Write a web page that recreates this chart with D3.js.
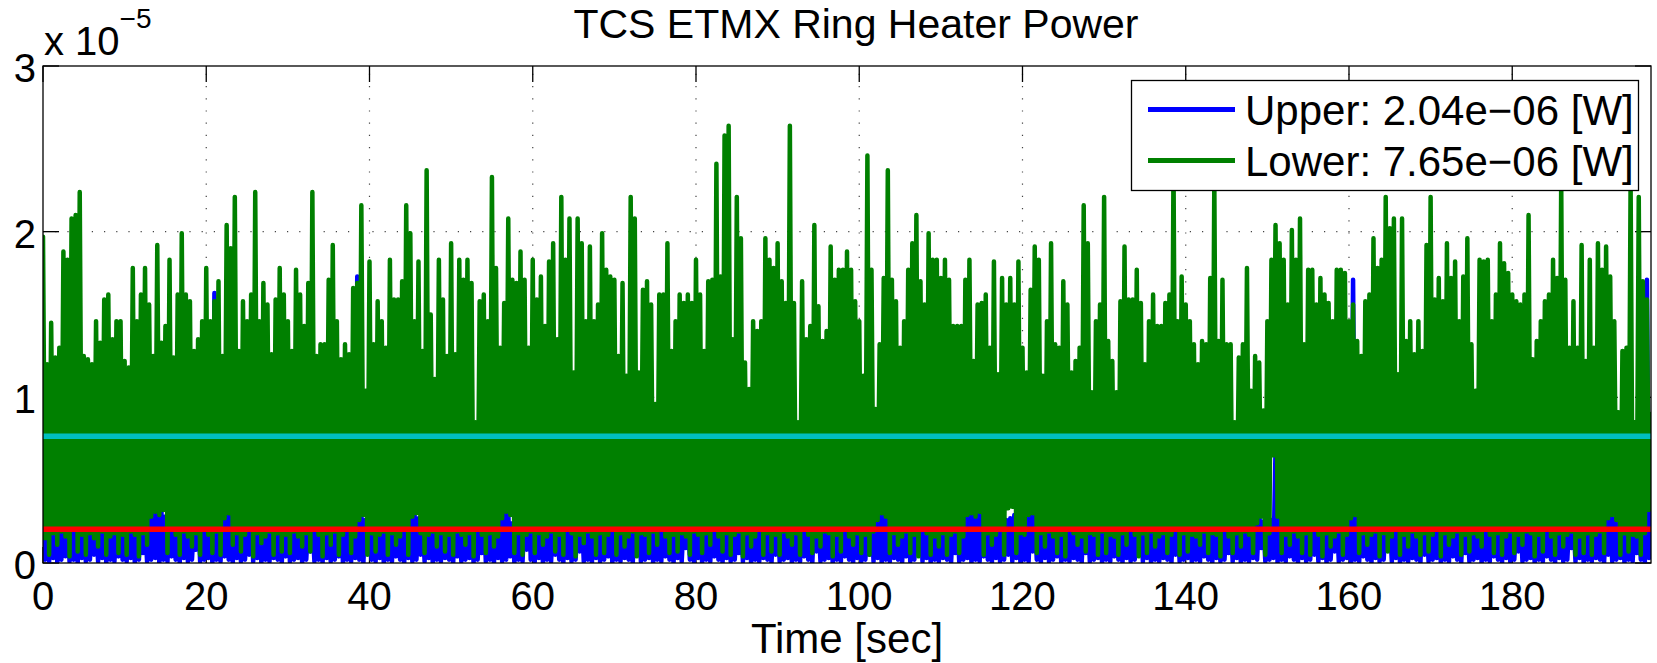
<!DOCTYPE html>
<html>
<head>
<meta charset="utf-8">
<script src="https://cdn.jsdelivr.net/npm/d3@7"></script>
<style>
  html, body { margin: 0; padding: 0; background: #fff; }
  svg { display: block; font-family: "Liberation Sans", Arial, Helvetica, sans-serif; }
</style>
</head>
<body>
<svg id="chart" width="1657" height="663"></svg>
<script>
// ring heater power, values in units of 1e-6 W
// samples every 0.25 s: peaks at t = 0, 0.5, 1 ... and troughs in between
const sampleStep = 0.25;

const lowerPeaks = [
  19.7,12.0,14.5,12.4,13.0,18.8,18.3,20.8,21.0,22.4,12.5,12.3,12.0,14.6,13.3,15.9,16.2,13.5,14.6,14.6,
  12.2,11.8,17.8,14.6,16.2,17.8,15.6,12.5,19.2,13.3,14.3,18.3,12.4,16.2,19.9,16.2,15.8,12.8,13.5,14.6,
  17.8,14.6,15.8,17.0,12.5,20.4,19.0,22.1,12.8,15.8,14.6,16.2,22.4,14.6,16.9,15.6,12.6,15.9,17.8,16.2,
  14.6,12.8,17.7,16.2,14.3,16.9,22.4,12.5,13.2,13.2,17.1,19.2,14.6,12.3,13.2,12.6,16.6,16.9,21.6,10.4,
  18.2,13.2,15.8,14.6,13.0,18.3,15.9,15.9,17.0,21.6,19.9,14.6,18.2,12.8,23.7,15.0,11.1,18.3,15.9,12.5,
  19.3,12.6,18.3,17.1,18.3,16.9,8.5,15.8,16.2,14.6,23.3,17.8,13.0,15.7,20.8,17.1,16.9,18.8,17.1,13.0,
  18.3,15.9,17.3,14.3,18.2,19.3,13.5,22.1,18.3,20.8,11.5,20.8,19.3,14.6,19.1,14.6,15.6,19.9,17.7,17.3,
  17.1,12.5,16.9,11.3,22.1,20.8,11.5,16.5,17.0,15.6,9.6,16.2,16.2,19.3,12.8,14.6,16.2,15.7,16.2,15.7,
  18.3,16.2,12.8,17.0,17.1,24.1,17.3,25.8,26.4,13.5,22.1,19.6,12.1,10.5,14.6,14.0,14.6,19.6,18.3,17.8,
  19.3,17.0,15.7,26.4,15.7,8.5,17.0,13.5,14.3,20.4,15.5,13.4,14.0,19.1,17.1,17.7,17.7,18.8,17.7,15.8,
  14.6,11.3,24.6,17.7,9.3,13.2,17.2,23.7,17.1,15.8,13.0,14.6,17.7,19.3,21.0,17.0,15.6,19.9,18.3,18.3,
  17.2,18.3,17.1,14.3,14.3,14.3,17.1,18.3,12.2,15.6,15.7,16.2,13.0,18.2,11.4,17.2,15.6,17.2,15.6,18.2,
  13.0,11.5,16.5,19.1,18.3,11.3,14.6,19.3,13.2,13.0,17.0,15.6,11.5,12.2,13.0,21.6,19.3,10.3,14.6,15.6,
  22.1,13.4,12.2,10.3,15.8,19.1,15.9,15.9,17.7,15.7,12.0,14.6,16.2,14.3,14.3,15.7,16.2,24.0,14.6,17.3,
  15.6,14.6,13.2,12.0,13.4,13.2,17.2,23.0,13.4,17.1,13.2,13.2,8.5,12.4,13.2,17.8,10.4,12.5,12.1,9.2,
  14.6,18.3,20.4,19.3,18.3,15.6,20.1,18.3,20.8,13.2,17.7,17.7,15.6,17.2,16.2,15.7,14.6,17.7,17.7,17.5,
  14.6,15.6,13.4,12.5,15.8,16.2,19.6,17.8,18.3,22.1,20.2,20.8,11.4,20.8,13.4,14.6,12.6,14.6,12.8,19.2,
  22.1,15.9,17.2,15.8,19.3,17.2,18.2,14.6,17.3,19.6,13.2,10.4,18.3,18.2,18.3,14.6,16.2,19.3,18.1,17.5,
  16.2,15.8,15.6,16.2,21.0,12.3,13.4,14.6,15.8,16.2,18.3,17.2,23.0,17.1,13.0,15.8,13.0,19.2,12.2,18.3,
  13.0,19.3,17.7,19.1,17.3,14.6,9.1,12.8,13.0,23.0,8.5,22.1,17.0,15.9,9.0
];
const lowerTroughs = [
  1.5,0.5,1.8,1.1,1.9,1.6,0.4,2.0,0.7,1.7,0.5,1.8,1.5,1.0,1.9,0.5,1.6,1.8,0.6,1.7,
  0.5,1.9,1.7,0.4,1.8,1.1,2.8,3.1,2.9,3.2,0.6,2.0,1.7,0.5,1.9,1.6,1.0,1.8,0.5,2.0,
  1.7,0.6,1.9,0.5,2.7,3.0,1.1,1.8,0.7,1.7,2.0,0.4,1.8,1.2,1.6,1.9,0.5,1.8,0.7,1.7,
  0.6,1.9,1.6,1.0,1.8,0.7,2.0,1.7,0.4,1.8,1.1,1.9,0.5,1.7,2.0,0.6,1.6,2.6,2.9,0.5,
  1.8,0.7,1.7,1.9,0.5,1.8,1.1,1.6,2.0,0.5,2.8,3.0,1.8,0.6,1.7,1.9,1.0,1.8,0.7,1.7,
  0.5,1.9,1.7,1.1,1.8,0.4,2.0,1.7,0.6,1.8,1.0,1.6,2.7,3.1,2.9,0.6,1.8,0.5,1.7,1.9,
  0.6,1.8,1.1,1.6,1.9,0.7,1.7,0.5,2.0,1.8,0.4,1.7,1.2,1.9,1.6,0.5,1.8,0.6,1.7,2.0,
  0.5,1.8,1.0,1.6,1.9,0.4,1.8,1.7,0.6,1.9,1.1,2.0,1.6,0.6,1.7,0.7,1.8,1.6,0.5,1.9,
  1.7,0.6,1.8,1.1,2.0,1.6,0.7,1.8,0.5,1.7,1.9,0.4,1.8,1.0,1.6,2.0,0.5,1.8,0.7,1.7,
  0.5,1.9,1.6,1.1,1.8,0.5,2.0,1.7,0.6,1.6,1.0,1.9,1.8,0.4,1.7,0.7,2.0,1.6,1.1,1.8,
  0.6,1.7,0.5,1.9,2.6,3.0,2.8,0.6,1.8,1.1,1.6,1.9,0.6,1.7,0.4,2.0,1.8,0.5,1.6,1.0,
  1.8,0.5,1.7,1.9,0.6,1.6,2.9,3.0,2.8,3.1,0.5,1.8,1.1,1.7,2.0,0.5,3.3,3.4,0.6,1.8,
  1.7,2.9,3.0,0.6,1.8,1.0,1.9,1.6,0.6,1.7,0.4,2.0,1.8,1.1,1.6,0.7,1.8,1.7,0.5,1.9,
  0.6,1.7,1.6,0.5,1.8,1.1,2.0,1.7,0.4,1.8,0.6,1.9,1.0,1.6,1.8,0.6,1.7,2.0,0.5,1.8,
  0.7,1.7,1.6,1.1,1.9,0.6,1.8,1.7,0.4,2.0,1.6,0.6,1.8,1.0,1.9,1.7,0.6,2.4,2.8,0.5,
  1.8,6.5,2.8,0.6,1.7,1.1,1.9,1.6,0.6,1.8,0.5,2.0,1.7,0.4,1.8,1.0,1.6,1.9,0.5,1.7,
  2.7,2.9,0.6,1.8,1.1,1.7,1.9,0.4,1.8,0.7,1.6,2.0,0.5,1.7,1.0,1.9,1.6,0.5,1.8,0.7,
  1.7,2.0,0.4,1.8,1.1,1.6,1.9,0.5,1.7,0.7,1.8,1.6,1.0,2.0,1.7,0.6,1.8,0.5,1.6,1.9,
  0.6,1.7,1.1,1.9,1.8,0.4,1.7,0.7,2.0,1.6,0.5,1.8,1.0,1.7,1.9,0.5,1.6,0.6,1.8,0.5,
  1.7,1.9,0.6,2.7,2.9,2.6,0.5,1.8,0.7,1.7,1.6,0.5,1.8,3.2
];
const upperPeaks = [
  2.4,3.1,2.6,2.9,2.2,3.3,2.7,2.5,3.0,2.3,2.8,2.6,3.2,2.4,2.9,2.7,2.5,3.1,2.2,2.8,
  2.6,3.0,2.4,2.9,2.7,2.5,3.1,3.3,3.0,3.2,2.8,2.6,2.3,2.9,2.5,3.1,2.7,2.4,3.0,2.6,
  2.8,2.5,16.3,2.9,2.7,3.1,2.9,2.4,2.6,3.0,2.5,2.8,2.3,2.9,2.6,3.1,2.7,2.4,3.0,2.5,
  2.9,2.6,2.4,3.1,2.8,2.5,2.7,3.0,2.3,2.9,2.6,2.8,2.4,3.2,2.5,2.7,3.0,17.3,3.0,2.6,
  2.4,2.9,2.7,2.5,3.1,2.8,2.3,2.6,3.0,2.4,2.9,3.1,2.7,2.5,2.8,2.6,3.0,2.4,2.7,2.9,
  2.5,2.8,2.6,3.0,2.4,2.9,2.7,2.3,3.1,2.6,2.8,2.5,2.9,3.2,3.0,2.4,2.7,2.5,3.0,6.6,
  4.8,2.9,2.6,3.1,2.4,2.8,2.5,2.7,4.8,2.6,2.9,2.4,3.0,2.7,2.5,2.8,2.6,3.1,2.4,2.9,
  2.7,2.5,3.0,2.6,2.8,2.4,2.9,2.7,2.5,3.1,2.6,2.8,2.4,3.0,2.7,2.5,2.9,2.6,2.8,2.4,
  3.0,2.7,2.5,2.9,2.6,2.8,5.3,2.4,3.1,2.7,2.5,2.9,2.6,2.8,2.4,3.0,2.7,2.5,2.9,2.6,
  2.8,2.4,3.1,2.7,2.5,2.9,2.6,2.8,2.4,3.0,2.7,2.5,2.9,2.6,2.8,2.4,3.1,2.7,2.5,2.9,
  2.6,2.8,2.4,3.0,4.2,3.1,3.0,3.2,4.7,2.6,2.8,2.4,2.9,2.7,2.5,3.1,2.6,2.8,2.4,2.9,
  2.7,2.5,3.0,2.6,2.8,2.4,3.0,2.9,3.1,2.9,3.0,2.6,2.8,2.4,2.9,2.7,2.6,2.7,2.9,2.5,
  2.8,3.0,3.1,2.9,2.6,2.4,3.0,2.7,2.5,2.8,2.6,2.9,2.4,3.1,2.7,2.5,2.8,2.6,3.0,2.4,
  2.9,2.7,2.5,3.1,2.6,2.8,2.4,2.9,2.7,2.5,3.0,2.6,2.8,2.4,2.9,2.7,2.5,3.1,2.6,2.8,
  2.4,2.9,2.7,2.5,3.0,2.6,2.8,2.4,3.1,2.7,2.5,2.9,2.6,2.8,2.4,3.0,2.7,2.9,3.1,2.5,
  2.8,2.6,6.8,5.9,2.7,2.5,3.0,2.6,2.8,2.4,2.9,2.7,2.5,3.1,2.6,2.8,2.4,3.0,2.7,2.5,
  2.9,17.1,2.8,2.4,3.0,2.7,2.5,2.9,2.6,2.8,2.4,3.1,2.7,2.5,2.9,2.6,2.8,2.4,3.0,2.7,
  2.5,2.9,2.6,2.8,2.4,3.1,2.7,2.5,2.9,2.6,2.8,2.4,3.0,2.7,2.5,2.9,2.6,2.8,2.4,3.1,
  2.7,2.5,2.9,2.6,2.8,2.4,3.0,2.7,2.5,2.9,2.6,2.8,2.4,3.1,2.7,2.5,2.9,2.6,2.8,2.4,
  3.0,2.7,2.5,2.6,2.8,2.7,2.4,3.0,2.6,2.8,2.5,2.9,2.7,17.1,3.2
];
const upperTroughs = [
  0.2,0.1,0.3,0.0,0.2,0.4,0.1,0.2,0.0,0.3,0.1,0.2,0.5,0.1,0.3,0.0,0.2,0.1,0.4,0.2,
  0.1,0.3,0.0,0.2,0.6,0.1,0.2,0.3,0.0,0.2,0.1,0.4,0.2,0.0,0.3,0.1,0.2,0.8,0.1,0.2,
  0.3,0.0,0.2,0.1,0.4,0.2,0.0,0.3,0.1,0.2,0.5,0.1,0.3,0.0,0.2,0.1,0.3,0.2,0.0,0.4,
  0.1,0.2,0.3,0.0,0.2,0.7,0.1,0.2,0.0,0.3,0.1,0.2,0.4,0.0,0.2,0.1,0.3,0.2,0.0,0.6,
  0.2,0.1,0.3,0.0,0.2,0.1,0.4,0.2,0.0,0.3,0.1,0.2,0.5,0.1,0.3,0.0,0.2,0.1,0.3,0.2,
  0.0,0.4,0.1,0.2,0.3,0.0,0.2,0.6,0.1,0.2,0.0,0.3,0.1,0.2,0.4,0.0,0.2,0.1,0.8,0.2,
  0.1,0.3,0.0,0.2,0.1,0.5,0.2,0.0,0.3,0.1,0.2,0.7,0.1,0.2,0.0,0.3,0.1,0.2,0.4,0.0,
  0.2,0.1,0.3,0.2,0.0,0.6,0.1,0.2,0.3,0.0,0.2,0.1,0.4,0.2,0.0,0.3,0.1,0.9,0.2,0.1,
  0.3,0.0,0.2,0.1,0.4,0.2,0.0,0.3,0.1,0.2,0.6,0.1,0.3,0.0,0.2,0.1,0.3,0.2,0.0,0.5,
  0.1,0.2,0.3,0.0,0.2,0.1,0.4,0.2,0.0,0.7,0.1,0.2,0.3,0.0,0.2,0.1,0.4,0.2,0.0,0.3,
  0.1,0.2,0.5,0.1,0.3,0.0,0.2,0.1,0.3,0.2,0.0,0.4,0.1,0.2,0.8,0.1,0.3,0.0,0.2,0.1,
  0.3,0.2,0.0,0.6,0.1,0.2,0.3,0.0,0.2,0.1,0.4,0.2,0.0,0.3,0.1,0.2,0.5,0.1,0.3,0.0,
  0.2,0.1,0.7,0.2,0.0,0.3,0.1,0.2,0.4,0.0,0.2,0.1,0.3,0.2,0.0,0.6,0.1,0.2,0.3,0.0,
  0.2,0.1,0.4,0.2,0.0,0.3,0.1,0.2,0.8,0.1,0.3,0.0,0.2,0.1,0.3,0.2,0.0,0.5,0.1,0.2,
  0.3,0.0,0.2,0.1,0.4,0.2,0.0,0.3,0.1,0.2,0.6,0.1,0.3,0.0,0.2,0.1,0.3,0.2,0.9,0.1,
  0.2,0.3,0.0,0.2,0.1,0.4,0.2,0.0,0.3,0.1,0.2,0.5,0.1,0.3,0.0,0.2,0.7,0.1,0.2,0.3,
  0.0,0.2,0.1,0.4,0.2,0.0,0.3,0.1,0.2,0.8,0.1,0.3,0.0,0.2,0.1,0.3,0.2,0.0,0.5,0.1,
  0.2,0.3,0.0,0.2,0.1,0.4,0.2,0.0,0.6,0.1,0.2,0.3,0.0,0.2,0.1,0.4,0.2,0.0,0.3,0.1,
  0.2,0.7,0.1,0.2,0.3,0.0,0.2,0.1,0.4,0.2,0.0,0.3,0.1,0.2,0.9,0.1,0.3,0.0,0.2,0.1,
  0.3,0.2,0.0,0.5,0.1,0.2,0.3,0.0,0.2,0.1,0.6,0.2,0.0,0.3
];

// mean values shown in the legend (W)
const upperMean = 2.04e-6;
const lowerMean = 7.65e-6;
const legendLabels = ["Upper: 2.04e\u221206 [W]", "Lower: 7.65e\u221206 [W]"];

const xTicks = [0, 20, 40, 60, 80, 100, 120, 140, 160, 180];
const yTicks = [0, 1, 2, 3];   // x 10^-5
const tMax = 197;

// peaks and troughs -> one time series
function toSeries(peaks, troughs){
    const out = [];
    peaks.forEach((p, i) => {
        out.push({t: 2*i*sampleStep, v: p*1e-6});
        if (i < troughs.length) out.push({t: (2*i+1)*sampleStep, v: troughs[i]*1e-6});
    });
    return out;
}
const upper = toSeries(upperPeaks, upperTroughs);
const lower = toSeries(lowerPeaks, lowerTroughs);

const svg = d3.select("#chart");
const plotLeft = 43, plotRight = 1651, plotTop = 66, plotBottom = 563;

const x = d3.scaleLinear().domain([0, tMax]).range([plotLeft, plotRight]);
const y = d3.scaleLinear().domain([0, 3e-5]).range([plotBottom, plotTop]);

svg.append("defs").append("clipPath").attr("id", "plotClip")
    .append("rect").attr("x", plotLeft).attr("y", plotTop)
    .attr("width", plotRight - plotLeft).attr("height", plotBottom - plotTop);

// dotted grid
const grid = svg.append("g").attr("stroke", "#444").attr("stroke-width", 1.2)
    .attr("stroke-dasharray", "1.2 11");
xTicks.slice(1).forEach(t => {
    grid.append("line").attr("x1", x(t)).attr("x2", x(t)).attr("y1", plotBottom).attr("y2", plotTop);
});
yTicks.slice(1, -1).forEach(t => {
    grid.append("line").attr("x1", plotLeft).attr("x2", plotRight).attr("y1", y(t*1e-5)).attr("y2", y(t*1e-5));
});

// ticks inside the box, on all four sides
const tickLen = 16;
const ticks = svg.append("g").attr("stroke", "#000").attr("stroke-width", 1.3);
xTicks.forEach(t => {
    ticks.append("line").attr("x1", x(t)).attr("x2", x(t)).attr("y1", plotTop).attr("y2", plotTop + tickLen);
    ticks.append("line").attr("x1", x(t)).attr("x2", x(t)).attr("y1", plotBottom).attr("y2", plotBottom - tickLen);
});
yTicks.forEach(t => {
    ticks.append("line").attr("x1", plotLeft).attr("x2", plotLeft + tickLen).attr("y1", y(t*1e-5)).attr("y2", y(t*1e-5));
    ticks.append("line").attr("x1", plotRight).attr("x2", plotRight - tickLen).attr("y1", y(t*1e-5)).attr("y2", y(t*1e-5));
});

// data
const line = d3.line().x(d => x(d.t)).y(d => y(d.v));
const plot = svg.append("g").attr("clip-path", "url(#plotClip)");

plot.append("path").datum(upper)
    .attr("d", line).attr("fill", "none").attr("stroke", "#0000ff")
    .attr("stroke-width", 4.5).attr("stroke-linejoin", "round").attr("stroke-linecap", "round");
plot.append("path").datum(lower)
    .attr("d", line).attr("fill", "none").attr("stroke", "#008000")
    .attr("stroke-width", 4.5).attr("stroke-linejoin", "round").attr("stroke-linecap", "round");

// mean lines
plot.append("line").attr("x1", x(0)).attr("x2", x(tMax))
    .attr("y1", y(upperMean)).attr("y2", y(upperMean))
    .attr("stroke", "#ff0000").attr("stroke-width", 5.5);
plot.append("line").attr("x1", x(0)).attr("x2", x(tMax))
    .attr("y1", y(lowerMean)).attr("y2", y(lowerMean))
    .attr("stroke", "#00bfbf").attr("stroke-width", 5.5);

// axes box
svg.append("rect").attr("x", plotLeft).attr("y", plotTop)
    .attr("width", plotRight - plotLeft).attr("height", plotBottom - plotTop)
    .attr("fill", "none").attr("stroke", "#000").attr("stroke-width", 1.3);

// tick labels
svg.append("g").selectAll("text").data(xTicks).join("text")
    .attr("x", d => x(d)).attr("y", 610)
    .attr("text-anchor", "middle").attr("font-size", "40px")
    .text(d => d);
svg.append("g").selectAll("text").data(yTicks).join("text")
    .attr("x", 36).attr("y", d => y(d*1e-5) + 16)
    .attr("text-anchor", "end").attr("font-size", "40px")
    .text(d => d);

// exponent label
const expo = svg.append("text").attr("x", 44).attr("y", 55).attr("font-size", "40px");
expo.append("tspan").text("x 10");
expo.append("tspan").attr("font-size", "28px").attr("dy", -27).text("\u22125");

// title and axis label
svg.append("text").attr("x", 856).attr("y", 38)
    .attr("text-anchor", "middle").attr("font-size", "41px")
    .text("TCS ETMX Ring Heater Power");
svg.append("text").attr("x", (plotLeft + plotRight)/2).attr("y", 653)
    .attr("text-anchor", "middle").attr("font-size", "42px")
    .text("Time [sec]");

// legend
const legend = svg.append("g");
legend.append("rect").attr("x", 1131.5).attr("y", 80.5).attr("width", 507).attr("height", 110)
    .attr("fill", "#fff").attr("stroke", "#000").attr("stroke-width", 1.3);
const legendColors = ["#0000ff", "#008000"];
legendLabels.forEach((label, i) => {
    const ly = 109.5 + i*51;
    legend.append("line").attr("x1", 1148).attr("x2", 1235).attr("y1", ly).attr("y2", ly)
        .attr("stroke", legendColors[i]).attr("stroke-width", 5);
    legend.append("text").attr("x", 1245).attr("y", 125 + i*51)
        .attr("font-size", "42px").text(label);
});
</script>
</body>
</html>
